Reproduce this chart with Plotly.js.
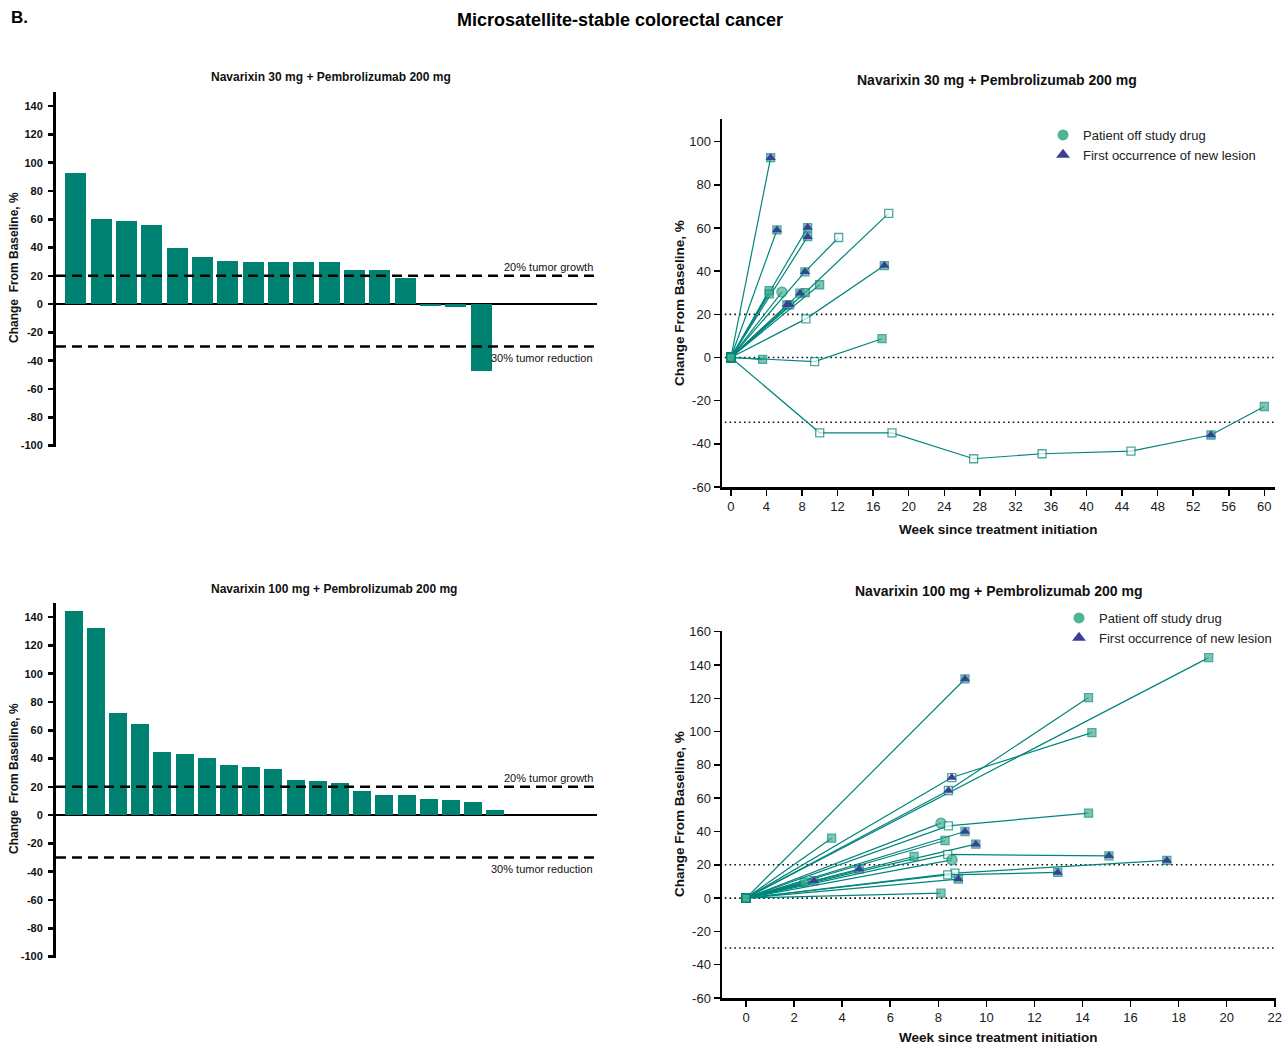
<!DOCTYPE html>
<html><head><meta charset="utf-8">
<script src="https://cdn.plot.ly/plotly-3.0.1.min.js"></script>
<style>html,body{margin:0;padding:0;background:#fff}#chart{width:1287px;height:1046px}</style>
</head><body><div id="chart"></div>
<script>
const FONT = "Liberation Sans, Arial, Helvetica, sans-serif";
const TEAL_BAR = "#008272";
const TEAL_LINE = "#00857a";
const OFF_GREEN = "#47ae8f";
const NAVY = "#3d3f96";

// ---------- Waterfall data (best % change from baseline) ----------
const wf30_change = [93, 60.5, 59, 56.2, 40, 33.6, 30.8, 30.1, 30.1, 30.1, 30.1, 24.5, 24.5, 18.4, -1.4, -2.1, -47.3];
const wf100_change = [144.7, 132, 71.9, 64.8, 45, 42.9, 40.1, 35.8, 34.4, 32.3, 25.2, 24.5, 22.4, 17.4, 14.6, 13.9, 11.1, 10.4, 9, 3.3];
const wf_yticks = [-100, -80, -60, -40, -20, 0, 20, 40, 60, 80, 100, 120, 140];
const thresholds = [20, -30];

// ---------- Spider data: 30 mg ----------
// status: b=baseline, o=open square, f=off study (filled), c=off study (circle), t=new lesion, ft=new lesion + off study
const sp30_weeks = [
  [0, 4.47], [0, 8.63], [0, 5.18], [0, 8.63], [0, 8.33, 12.12], [0, 9.98], [0, 4.31], [0, 4.31],
  [0, 5.74], [0, 7.77], [0, 8.37, 17.75], [0, 6.3], [0, 6.6], [0, 8.44, 17.26], [0, 3.57], [0, 9.42, 17.0],
  [0, 9.99, 18.12, 27.3, 35.0, 45.0, 54.0, 60.0]
];
const sp30_change = [
  [0, 92.6], [0, 60.2], [0, 59.1], [0, 56], [0, 39.7, 55.6], [0, 33.7], [0, 31], [0, 29.5],
  [0, 30.3], [0, 29.8], [0, 30.1, 66.8], [0, 24.4], [0, 24.4], [0, 17.9, 42.6], [0, -0.9], [0, -1.9, 8.7],
  [0, -34.9, -34.9, -46.9, -44.6, -43.4, -35.9, -22.7]
];
const sp30_status = [
  ["b", "ft"], ["b", "ft"], ["b", "ft"], ["b", "ft"], ["b", "ft", "o"], ["b", "f"], ["b", "f"], ["b", "f"],
  ["b", "c"], ["b", "ft"], ["b", "f", "o"], ["b", "ft"], ["b", "ft"], ["b", "o", "ft"], ["b", "f"], ["b", "o", "f"],
  ["b", "o", "o", "o", "o", "o", "ft", "f"]
];
const sp30_xticks = [0, 4, 8, 12, 16, 20, 24, 28, 32, 36, 40, 44, 48, 52, 56, 60];
const sp30_yticks = [-60, -40, -20, 0, 20, 40, 60, 80, 100];

// ---------- Spider data: 100 mg ----------
const sp100_weeks = [
  [0, 19.25], [0, 9.11], [0, 8.56, 14.39], [0, 8.42, 14.25], [0, 8.11], [0, 8.42, 14.25], [0, 9.11],
  [0, 3.56], [0, 8.28], [0, 9.56], [0, 8.39, 15.1], [0, 6.99], [0, 8.57], [0, 4.71], [0, 8.69, 17.51],
  [0, 8.39, 12.97], [0, 8.83], [0, 2.83], [0, 2.42], [0, 8.11]
];
const sp100_change = [
  [0, 144.4], [0, 131.6], [0, 72.4, 99.4], [0, 64.6, 120.4], [0, 45], [0, 43.4, 51], [0, 40],
  [0, 36], [0, 34.6], [0, 32.4], [0, 26.2, 25.4], [0, 25], [0, 23], [0, 17.4], [0, 15, 22.6],
  [0, 14, 15.4], [0, 11.4], [0, 10.4], [0, 9.5], [0, 3]
];
const sp100_status = [
  ["b", "f"], ["b", "ft"], ["b", "t", "f"], ["b", "t", "f"], ["b", "c"], ["b", "o", "f"], ["b", "ft"],
  ["b", "f"], ["b", "f"], ["b", "ft"], ["b", "o", "ft"], ["b", "f"], ["b", "c"], ["b", "ft"], ["b", "o", "ft"],
  ["b", "o", "ft"], ["b", "ft"], ["b", "ft"], ["b", "f"], ["b", "f"]
];
const sp100_xticks = [0, 2, 4, 6, 8, 10, 12, 14, 16, 18, 20, 22];
const sp100_yticks = [-60, -40, -20, 0, 20, 40, 60, 80, 100, 120, 140, 160];
const spider_reflines = [20, 0, -30];

// ---------- builders ----------
const traces = [];
function addWaterfall(vals, xa, ya, w) {
  traces.push({
    type: "bar", x: vals.map((_, i) => i), y: vals, xaxis: xa, yaxis: ya,
    width: w, marker: { color: TEAL_BAR, line: { width: 0 } }, showlegend: false, hoverinfo: "y"
  });
}
addWaterfall(wf30_change, "x", "y", 0.83);
addWaterfall(wf100_change, "x3", "y3", 0.81);

function fillOf(s) { return (s === "o" || s === "t") ? "#ffffff" : OFF_GREEN; }
function symOf(s) { return s === "c" ? "circle" : "square"; }

function addSpider(weeks, change, status, xa, ya) {
  const tx = [], ty = [];
  weeks.forEach((wk, p) => {
    traces.push({
      type: "scatter", mode: "lines+markers", x: wk, y: change[p], xaxis: xa, yaxis: ya,
      line: { color: TEAL_LINE, width: 1.2 },
      marker: {
        symbol: status[p].map(symOf), size: status[p].map(s => s === "c" ? 10 : 8),
        color: status[p].map(fillOf), line: { color: TEAL_LINE, width: 1.3 }
      },
      showlegend: false, hoverinfo: "x+y"
    });
    status[p].forEach((s, i) => { if (s === "t" || s === "ft") { tx.push(wk[i]); ty.push(change[p][i]); } });
  });
  traces.push({
    type: "scatter", mode: "markers", x: tx, y: ty, xaxis: xa, yaxis: ya,
    marker: { symbol: "triangle-up", size: 9, color: NAVY, line: { width: 0 } },
    showlegend: false, hoverinfo: "x+y"
  });
}
addSpider(sp30_weeks, sp30_change, sp30_status, "x2", "y2");
addSpider(sp100_weeks, sp100_change, sp100_status, "x4", "y4");

// legend entries
[["legend", "x2", "y2"], ["legend2", "x4", "y4"]].forEach(([lg, xa, ya]) => {
  traces.push({ type: "scatter", mode: "markers", x: [null], y: [null], xaxis: xa, yaxis: ya, legend: lg,
    name: "Patient off study drug", marker: { symbol: "circle", size: 11, color: "#4fb493" } });
  traces.push({ type: "scatter", mode: "markers", x: [null], y: [null], xaxis: xa, yaxis: ya, legend: lg,
    name: "First occurrence of new lesion", marker: { symbol: "triangle-up", size: 12, color: NAVY } });
});

// ---------- layout ----------
const W = 1287, H = 1046;
const px = v => v / W, py = v => 1 - v / H;

const wfY = (dom, anchor) => ({
  domain: dom, range: [-101, 150], tickvals: wf_yticks, ticktext: wf_yticks.map(String), anchor: anchor,
  ticks: "outside", ticklen: 5, tickwidth: 2.5,
  tickcolor: "#000", showline: true, linewidth: 3, linecolor: "#000", showgrid: false,
  zeroline: true, zerolinecolor: "#000", zerolinewidth: 2.5, ticklabelstandoff: 3,
  tickfont: { family: FONT, size: 11, color: "#111", weight: "bold" }, fixedrange: true
});
const wfX = (dom, rng, anchor) => ({ domain: dom, range: rng, visible: false, anchor: anchor, fixedrange: true });

const spAxis = (dom, rng, ticks, anchor) => ({
  domain: dom, range: rng, tickvals: ticks, ticktext: ticks.map(String), ticks: "outside", ticklen: 6, tickwidth: 1.5,
  tickcolor: "#000", showline: true, linewidth: 2.5, linecolor: "#000", showgrid: false, zeroline: false,
  anchor: anchor, tickfont: { family: FONT, size: 13, color: "#1a1a1a" }, fixedrange: true
});

const shapes = [];
[["x", "y"], ["x3", "y3"]].forEach(([xa, ya]) => thresholds.forEach(t => shapes.push({
  type: "line", xref: xa + " domain", yref: ya, x0: 0, x1: 1, y0: t, y1: t,
  line: { color: "#000", width: 2.5, dash: "10px,6px" }
})));
[["x2", "y2"], ["x4", "y4"]].forEach(([xa, ya]) => spider_reflines.forEach(t => shapes.push({
  type: "line", xref: xa + " domain", yref: ya, x0: 0.005, x1: 1, y0: t, y1: t, layer: "below",
  line: { color: "#111", width: 1.6, dash: "1.6px,3.2px" }
})));

const ann = (text, x, y, opts) => Object.assign({
  text: text, xref: "paper", yref: "paper", x: x, y: y, showarrow: false,
  xanchor: "center", yanchor: "middle", font: { family: FONT, size: 13, color: "#111" }
}, opts || {});

const annotations = [
  ann("<b>B.</b>", px(9), py(18), { xanchor: "left", font: { family: FONT, size: 17, color: "#000" } }),
  ann("<b>Navarixin 30 mg + Pembrolizumab 200 mg</b>", px(331), py(77), { font: { family: FONT, size: 12, color: "#111" } }),
  ann("<b>Navarixin 100 mg + Pembrolizumab 200 mg</b>", px(334), py(589), { font: { family: FONT, size: 12, color: "#111" } }),
  ann("<b>Navarixin 30 mg + Pembrolizumab 200 mg</b>", px(997), py(80), { font: { family: FONT, size: 14, color: "#111" } }),
  ann("<b>Navarixin 100 mg + Pembrolizumab 200 mg</b>", px(999), py(591), { font: { family: FONT, size: 14, color: "#111" } }),
  ann("<b>Change  From Baseline, %</b>", px(14), py(268), { textangle: -90, font: { family: FONT, size: 12, color: "#111" } }),
  ann("<b>Change  From Baseline, %</b>", px(14), py(779), { textangle: -90, font: { family: FONT, size: 12, color: "#111" } }),
  ann("<b>Change From Baseline, %</b>", px(679), py(303), { textangle: -90, font: { family: FONT, size: 13.5, color: "#111" } }),
  ann("<b>Change From Baseline, %</b>", px(679), py(814), { textangle: -90, font: { family: FONT, size: 13.5, color: "#111" } }),
  ann("<b>Week since treatment initiation</b>", px(998), py(529), { font: { family: FONT, size: 13.5, color: "#111" } }),
  ann("<b>Week since treatment initiation</b>", px(998), py(1037), { font: { family: FONT, size: 13.5, color: "#111" } }),
];
["y", "y3"].forEach(ya => {
  annotations.push({ text: "20% tumor growth", xref: "paper", yref: ya, x: px(595), y: 20, xanchor: "right", yanchor: "bottom",
    yshift: 1, showarrow: false, font: { family: FONT, size: 11, color: "#111" } });
  annotations.push({ text: "30% tumor reduction", xref: "paper", yref: ya, x: px(595), y: -30, xanchor: "right", yanchor: "top",
    yshift: -3, showarrow: false, font: { family: FONT, size: 11, color: "#111" } });
});

const legendStyle = (x, y) => ({
  x: x, y: y, xanchor: "left", yanchor: "top", xref: "paper", yref: "paper", bgcolor: "rgba(0,0,0,0)",
  font: { family: FONT, size: 13, color: "#222" }, tracegroupgap: 0, itemclick: false, itemdoubleclick: false
});

const layout = {
  width: W, height: H, margin: { l: 0, r: 0, t: 0, b: 0, autoexpand: false },
  paper_bgcolor: "#fff", plot_bgcolor: "rgba(0,0,0,0)",
  title: { text: "<b>Microsatellite-stable colorectal cancer</b>", x: px(620), xanchor: "center", y: py(20), yanchor: "middle",
    yref: "container", xref: "paper", font: { family: FONT, size: 18, color: "#000" } },
  showlegend: true,
  legend: legendStyle(px(1043), py(120)),
  legend2: legendStyle(px(1059), py(603)),
  xaxis: wfX([px(56), px(597)], [-0.78, 20.57], "y"),
  yaxis: wfY([py(447), py(92)], "x"),
  xaxis3: wfX([px(56), px(597)], [-0.79, 23.58], "y3"),
  yaxis3: wfY([py(958), py(603)], "x3"),
  xaxis2: spAxis([px(722), px(1275)], [-1.0, 61.2], sp30_xticks, "y2"),
  yaxis2: spAxis([py(487), py(119)], [-60, 110.5], sp30_yticks, "x2"),
  xaxis4: spAxis([px(722), px(1276)], [-1.0, 22.05], sp100_xticks, "y4"),
  yaxis4: spAxis([py(998), py(631)], [-60, 160.4], sp100_yticks, "x4"),
  shapes: shapes, annotations: annotations, bargap: 0
};

Plotly.newPlot("chart", traces, layout, { displayModeBar: false, staticPlot: true });
</script></body></html>
